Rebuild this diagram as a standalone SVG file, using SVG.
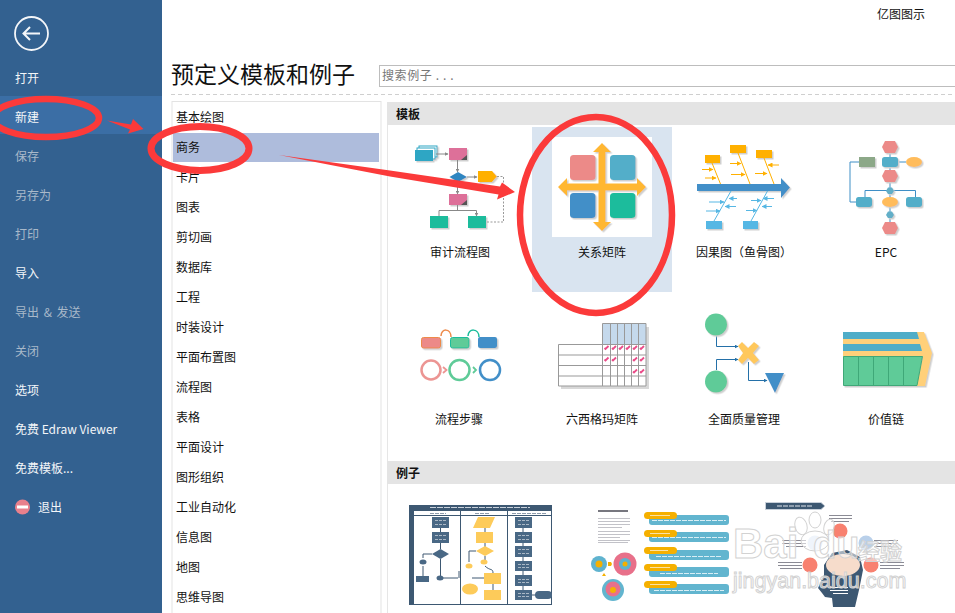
<svg xmlns="http://www.w3.org/2000/svg" width="955" height="613" viewBox="0 0 955 613">
<style>
text{font-family:"Noto Sans CJK SC","Noto Sans",sans-serif;font-size:12px;fill:#111}
.m{fill:#f4f6f9}.d{fill:#a9b9ca}
.c{text-anchor:middle}
.g{fill:none;stroke:#888;stroke-width:1}
.gd{fill:none;stroke:#999;stroke-width:1;stroke-dasharray:2 1.5}
.pk{fill:#dd6f99}.tl{fill:#1abc9c}
.gold{fill:#ffb000}.sky{fill:#56b7e4}
.la{fill:none;stroke:#ffb000;stroke-width:1}
.lb{fill:none;stroke:#56b7e4;stroke-width:1}
.ep{fill:none;stroke:#3f8fc6;stroke-width:1}
.red{fill:none;stroke:#fb3a3a}
.dk{fill:#4a6785}.yl{fill:#fdcb5a}
.l{fill:none;stroke:#3e5872;stroke-width:1}
.wm{fill:#fff;fill-opacity:.55;stroke:#d2d2d2;stroke-width:1}
.grid{fill:none;stroke:#999;stroke-width:1}
.q{fill:none;stroke:#2470a8;stroke-width:1}
</style>
<defs>
<filter id="sh" x="-20%" y="-20%" width="150%" height="150%"><feDropShadow dx="1.5" dy="1.5" stdDeviation="0.4" flood-color="#cfcfcf"/></filter>
<filter id="soft" x="-5%" y="-5%" width="110%" height="110%"><feGaussianBlur stdDeviation="0.35"/></filter>
<marker id="ag" markerWidth="4" markerHeight="4" refX="3.5" refY="2" orient="auto"><path d="M0 0L4 2L0 4z" fill="#888"/></marker>
<marker id="au" markerWidth="5" markerHeight="5" refX="4.5" refY="2.5" orient="auto"><path d="M0 0L5 2.5L0 5z" fill="#ffb000"/></marker>
<marker id="ab" markerWidth="5" markerHeight="5" refX="4.5" refY="2.5" orient="auto"><path d="M0 0L5 2.5L0 5z" fill="#56b7e4"/></marker>
<marker id="aq" markerWidth="4" markerHeight="4" refX="3.5" refY="2" orient="auto"><path d="M0 0L4 2L0 4z" fill="#2470a8"/></marker>
<path id="ck" d="M-2 .5L-1 1.5L2 -1.5" fill="none" stroke="#ea4c89" stroke-width="1.800"/>
</defs>
<rect width="955" height="613" fill="#fff"/>

<g id="sidebar">
<rect width="162" height="613" fill="#336190"/>
<rect y="96" width="162" height="38" fill="#3b6ea5"/>
<circle cx="31.500" cy="33.500" r="16.500" fill="none" stroke="#f4f6f9" stroke-width="1.800"/>
<path d="M40 33.500H24M30 27L23.500 33.500L30 40" fill="none" stroke="#f4f6f9" stroke-width="2"/>
<text class="m" x="15" y="83">打开</text>
<text class="m" x="15" y="122">新建</text>
<text class="d" x="15" y="161">保存</text>
<text class="d" x="15" y="200">另存为</text>
<text class="d" x="15" y="239">打印</text>
<text class="m" x="15" y="278">导入</text>
<text class="d" x="15" y="317" style="word-spacing:2px">导出 &amp; 发送</text>
<text class="d" x="15" y="356">关闭</text>
<text class="m" x="15" y="395">选项</text>
<text class="m" x="15" y="434">免费 Edraw Viewer</text>
<text class="m" x="15" y="473">免费模板...</text>
<circle cx="22.500" cy="507" r="7.500" fill="#e8808c"/>
<rect x="17" y="505.500" width="11" height="3" fill="#fff"/>
<text class="m" x="38" y="512">退出</text>
</g>

<g id="header">
<text x="877" y="19">亿图图示</text>
<text x="171" y="83" style="font-size:23px">预定义模板和例子</text>
<rect x="379.500" y="65.500" width="580" height="21" fill="#fff" stroke="#bdbdbd"/>
<text x="382" y="80" style="fill:#777;letter-spacing:.6px">搜索例子 . . .</text>
<path d="M171 94.500H955" stroke="#cfcfcf" stroke-dasharray="4 3" fill="none"/>
</g>

<g id="category-list">
<rect x="172" y="101.500" width="209" height="520" fill="#fff" stroke="#e3e3e3"/>
<rect x="173" y="133" width="206" height="29" fill="#aebcdc"/>
<text x="176" y="122">基本绘图</text>
<text x="176" y="152">商务</text>
<text x="176" y="182">卡片</text>
<text x="176" y="212">图表</text>
<text x="176" y="242">剪切画</text>
<text x="176" y="272">数据库</text>
<text x="176" y="302">工程</text>
<text x="176" y="332">时装设计</text>
<text x="176" y="362">平面布置图</text>
<text x="176" y="392">流程图</text>
<text x="176" y="422">表格</text>
<text x="176" y="452">平面设计</text>
<text x="176" y="482">图形组织</text>
<text x="176" y="512">工业自动化</text>
<text x="176" y="542">信息图</text>
<text x="176" y="572">地图</text>
<text x="176" y="602">思维导图</text>
</g>

<g id="section-headers">
<path d="M387.500 102V613" stroke="#e6e6e6" fill="none"/>
<rect x="387" y="102" width="568" height="23" fill="#e4e4e4"/>
<text x="396" y="119" style="font-weight:700">模板</text>
<rect x="387" y="461" width="568" height="23" fill="#e4e4e4"/>
<text x="396" y="478" style="font-weight:700">例子</text>
</g>

<g id="tpl-audit">
<g filter="url(#sh)">
<rect x="419" y="146" width="18" height="11" fill="#fff" stroke="#2ea6c4"/>
<rect x="417" y="148" width="18" height="11" fill="#fff" stroke="#2ea6c4"/>
<rect x="415" y="150" width="18" height="11" fill="#2ea6c4"/>
<path class="pk" d="M449 148h18v12h-18z"/><path d="M461 160l6-5v5z" fill="#555"/>
<path d="M449.500 177L458 172L467 177L458 182z" fill="#2e86c1"/>
<path class="gold" d="M478 171h14l5 5.500l-5 5.500h-14z"/>
<path class="pk" d="M449 194h18v11h-18z"/><path d="M461 205l6-5v5z" fill="#555"/>
<rect class="tl" x="430" y="216" width="18" height="12"/>
<rect class="tl" x="468" y="216" width="18" height="12"/>
</g>
<path class="g" marker-end="url(#ag)" d="M436 154H448"/>
<path class="g" marker-end="url(#ag)" d="M457.500 160V172"/>
<path class="g" marker-end="url(#ag)" d="M467 177H477"/>
<path class="g" marker-end="url(#ag)" d="M457.500 182V194"/>
<path class="g" d="M457.500 205V210.500"/>
<path class="g" marker-end="url(#ag)" d="M439 216V210.500H476.500V216"/>
<path class="gd" d="M497 176.500H503.500V222H486"/>
<text class="c" x="460" y="257">审计流程图</text>
</g>

<g id="tpl-matrix">
<rect x="532" y="127" width="140" height="165" fill="#d9e4f0"/>
<rect x="552" y="137" width="100" height="100" fill="#fff"/>
<g filter="url(#sh)">
<rect x="570" y="155" width="25.500" height="25" rx="3.500" fill="#ec8a88"/>
<rect x="610" y="155" width="25.500" height="25" rx="3.500" fill="#52aec9"/>
<rect x="570" y="193" width="25.500" height="25" rx="3.500" fill="#428fc8"/>
<rect x="610" y="193" width="25.500" height="25" rx="3.500" fill="#1abc9c"/>
<path fill="#ffb732" d="M602 143L611 152H605.500V183.500H637V178L646 187L637 196V190.500H605.500V222H611L602 231L593 222H598.500V190.500H567V196L558 187L567 178V183.500H598.500V152H593z"/>
</g>
<text class="c" x="602" y="257">关系矩阵</text>
</g>

<g id="tpl-fishbone">
<g filter="url(#sh)">
<path fill="#428fc8" d="M697 184H781V178L790 187.500L781 198V191H697z"/>
<rect class="gold" x="705" y="155" width="15" height="8"/>
<rect class="gold" x="730" y="145" width="16" height="8"/>
<rect class="gold" x="756" y="150" width="16" height="8"/>
<rect class="sky" x="706" y="221" width="16" height="8"/>
<rect class="sky" x="743" y="221" width="15" height="8"/>
</g>
<path class="la" d="M712 163L720.500 184M738 153L750 184M764 158L774 184"/>
<path class="lb" d="M714 221L731 191M751 221L767.500 191"/>
<path class="la" marker-end="url(#au)" d="M702 169.500H713"/>
<path class="la" marker-end="url(#au)" d="M705 178H716"/>
<path class="la" marker-end="url(#au)" d="M730 163.500H741"/>
<path class="la" marker-end="url(#au)" d="M731 174.500H745"/>
<path class="la" marker-end="url(#au)" d="M755 173.500H767"/>
<path class="la" marker-end="url(#au)" d="M779 165H768"/>
<path class="lb" marker-end="url(#ab)" d="M709 202H724"/>
<path class="lb" marker-end="url(#ab)" d="M737 198.500H729"/>
<path class="lb" marker-end="url(#ab)" d="M736 206.500H725"/>
<path class="lb" marker-end="url(#ab)" d="M706 211H720"/>
<path class="lb" marker-end="url(#ab)" d="M751 200.500H761"/>
<path class="lb" marker-end="url(#ab)" d="M774 198.500H763"/>
<path class="lb" marker-end="url(#ab)" d="M772 206.500H762"/>
<path class="lb" marker-end="url(#ab)" d="M746 210.500H757"/>
<text x="696" y="257">因果图（鱼骨图）</text>
</g>

<g id="tpl-epc">
<path class="ep" d="M890 147V228M859 162H850V202H856M865 197V190.500H915.500V197M898 162H906"/>
<g filter="url(#sh)">
<path fill="#ec8a88" d="M885 141H895L898 147L895 153H885L882 147z"/>
<path fill="#ec8a88" d="M885 170H895L898 176L895 182H885L882 176z"/>
<path fill="#ec8a88" d="M885 222H895L898 228L895 234H885L882 228z"/>
<rect x="859" y="157" width="16" height="10" fill="#8ca888"/>
<rect x="882" y="157" width="16" height="10" rx="2.500" fill="#52aec9"/>
<ellipse cx="914" cy="162" rx="8" ry="5" fill="#ffbc5c"/>
<rect x="856" y="197" width="16" height="10" rx="2.500" fill="#52aec9"/>
<rect x="906" y="197" width="16" height="10" rx="2.500" fill="#52aec9"/>
<ellipse cx="890" cy="202" rx="8" ry="5" fill="#ffbc5c"/>
<path fill="#62afc8" d="M888 187.500H892L894 191L892 194H888L886 191z"/>
<path fill="#62afc8" d="M888 211.500H892L894 215L892 218H888L886 215z"/>
</g>
<text class="c" x="886" y="257">EPC</text>
</g>

<g id="tpl-steps">
<g filter="url(#sh)">
<rect x="421.500" y="337.500" width="19" height="10.500" rx="2" fill="#ec8a88" stroke="#ee8a4a"/>
<rect x="450.500" y="337.500" width="18.500" height="10.500" rx="2" fill="#5fcb98" stroke="#1abc9c"/>
<rect x="478" y="337" width="19" height="11" rx="2" fill="#428fc8"/>
</g>
<path d="M441 336C441 328 451 328 451 337" fill="none" stroke="#ee8a4a" stroke-width="1.500"/>
<path d="M468 336C468 328 479 328 479 337" fill="none" stroke="#1abc9c" stroke-width="1.500"/>
<circle cx="431" cy="370" r="9.500" fill="none" stroke="#ec9593" stroke-width="2.500"/>
<circle cx="459.500" cy="370" r="10" fill="none" stroke="#5fcb98" stroke-width="2.500"/>
<circle cx="490" cy="370" r="10" fill="none" stroke="#428fc8" stroke-width="2.500"/>
<path d="M443 367L446.500 370L443 373" fill="none" stroke="#ec9593" stroke-width="1.800"/>
<path d="M473 367L476 370L473 373" fill="none" stroke="#5fcb98" stroke-width="1.800"/>
<text class="c" x="459" y="424">流程步骤</text>
</g>

<g id="tpl-sigma">
<rect x="561" y="347" width="88" height="42" fill="#d8d8d8"/>
<rect x="605" y="327" width="44" height="20" fill="#d8d8d8"/>
<rect x="558.500" y="344.500" width="87.500" height="41.500" fill="#fff"/>
<rect x="602.500" y="323.500" width="43.500" height="21" fill="#c5d9ec"/>
<path class="grid" d="M602.500 323.500H646V386H558.500V344.500H646M558.500 355H646M558.500 365.500H646M558.500 376H646M602.500 323.500V386M610.500 323.500V386M617.500 323.500V386M624.500 323.500V386M631.500 323.500V386M638.500 323.500V386"/>
<use href="#ck" x="606.500" y="347.500"/><use href="#ck" x="614" y="347.500"/><use href="#ck" x="621" y="347.500"/><use href="#ck" x="628" y="347.500"/><use href="#ck" x="635" y="347.500"/><use href="#ck" x="642" y="347.500"/>
<use href="#ck" x="606.500" y="359"/><use href="#ck" x="614" y="359"/><use href="#ck" x="635" y="359"/><use href="#ck" x="642" y="359"/>
<use href="#ck" x="635" y="371"/><use href="#ck" x="642" y="371"/>
<text class="c" x="602" y="424">六西格玛矩阵</text>
</g>

<g id="tpl-quality">
<path class="q" marker-end="url(#aq)" d="M716.500 335V346.500H738"/>
<path class="q" marker-end="url(#aq)" d="M716.500 370V359.500H738"/>
<path class="q" marker-end="url(#aq)" d="M748.500 362V380.500H767"/>
<g filter="url(#sh)">
<circle cx="716" cy="324.500" r="11" fill="#5fcb98"/>
<circle cx="716" cy="381.500" r="11" fill="#5fcb98"/>
<path fill="#ffc85c" d="M738 346L742 342L748 348L754 342L759 346L753 353L759 360L754 364L748 358L742 364L738 360L743 353z"/>
<path fill="#428fc8" d="M765 373H784L775 393z"/>
</g>
<text class="c" x="744" y="424">全面质量管理</text>
</g>

<g id="tpl-value">
<g filter="url(#sh)">
<path fill="#ffd07a" d="M843 332H924L932 353L925 386H916L923 357H843z"/>
<path fill="#4fadc8" d="M843 332H917L919 339H843zM843 344H920L922 351H843z"/>
<path fill="#5fcb98" stroke="#3fa878" d="M843.500 356.500H922.500L917 385.500H843.500z"/>
</g>
<path fill="none" stroke="#3fa878" d="M858.500 357V385M873.500 357V385M888.500 357V385M903.500 357V385"/>
<text class="c" x="886" y="424">价值链</text>
</g>

<g id="ex-flowchart" filter="url(#soft)">
<rect x="409.500" y="505.500" width="142" height="99" fill="#fff" stroke="#3e5872"/>
<rect x="409" y="505" width="143" height="6" fill="#3e5872"/>
<rect x="409" y="505" width="5" height="99" fill="#3e5872"/>
<path d="M430 507.500H530" stroke="#c9d2dc" fill="none" stroke-dasharray="6 1"/>
<path d="M430 513.500H446M475 513.500H490M512 513.500H546" stroke="#8d9bab" fill="none" stroke-dasharray="4 1"/>
<path class="l" d="M414 515.500H552M460.500 511V604M507.500 511V604"/>
<path class="l" d="M440.500 528V532M440.500 543V549M440.500 559V578M432 554H423V558M423 566V576M440 578H458M472 578H484M485 528V532M485 543V547M476 551H469V562M485 556V562M485 566C490 571 493 568 493 573M493 584V590M523 528V590M532 595H536M459 578V571"/>
<rect class="dk" x="432" y="517" width="17" height="11"/><rect class="dk" x="432" y="532" width="17" height="11"/>
<path class="dk" d="M440.500 549L449 554L440.500 559L432 554z"/>
<ellipse class="dk" cx="423" cy="562" rx="3.500" ry="2.500"/><ellipse class="dk" cx="440" cy="578" rx="3.500" ry="2.500"/>
<rect class="dk" x="416" y="576" width="13" height="6"/>
<rect class="dk" x="515" y="517" width="17" height="11"/><rect class="dk" x="515" y="532" width="17" height="11"/><rect class="dk" x="515" y="546" width="17" height="11"/><rect class="dk" x="515" y="561" width="17" height="10"/><rect class="dk" x="515" y="575" width="17" height="11"/><rect class="dk" x="515" y="590" width="17" height="10"/>
<rect class="dk" x="535" y="591" width="17" height="8" rx="4"/>
<path d="M435 520.500H446M435 524.500H446M435 535.500H446M435 539.500H446M518 520.500H529M518 524.500H529M518 535.500H529M518 539.500H529M518 549.500H529M518 553.500H529M518 564.500H529M518 567.500H529M518 579.500H529M518 582.500H529M518 593.500H529M518 596.500H529" stroke="#aab8c6" fill="none" stroke-dasharray="3 1"/>
<path class="yl" d="M478 517H495L490 528H473z"/>
<rect class="yl" x="476" y="532" width="17" height="11"/>
<path class="yl" d="M485 546L494 551L485 556L476 551z"/>
<ellipse class="yl" cx="469" cy="566" rx="3.500" ry="2.500"/><ellipse class="yl" cx="484" cy="562" rx="3.500" ry="2.500"/>
<rect class="yl" x="484" y="573" width="17" height="11"/>
<ellipse class="yl" cx="470" cy="589" rx="8" ry="5.500"/>
<rect class="yl" x="484" y="590" width="17" height="10"/>
</g>

<g id="ex-infographic" filter="url(#soft)">
<g fill="#c2c2c8">
<rect x="598" y="510" width="30" height="2" fill="#77777f"/><rect x="598" y="518" width="32" height="1"/><rect x="598" y="521" width="32" height="1"/><rect x="598" y="524" width="32" height="1"/><rect x="598" y="527" width="24" height="1"/><rect x="598" y="531" width="32" height="1"/><rect x="598" y="534" width="32" height="1"/><rect x="598" y="537" width="22" height="1"/><rect x="598" y="540" width="32" height="1"/><rect x="598" y="542" width="30" height="1"/>
</g>
<g fill="#62b5cf">
<rect x="649" y="515" width="80" height="10" rx="3"/><rect x="649" y="532" width="80" height="10" rx="3"/><rect x="649" y="550" width="80" height="10" rx="3"/><rect x="649" y="567" width="80" height="10" rx="3"/><rect x="649" y="584" width="80" height="10" rx="3"/>
</g>
<path d="M652 520.500H726M652 537.500H726M656 556.500H722M660 573.500H718M654 590.500H724" stroke="#d8eef5" fill="none" stroke-dasharray="5 1"/>
<g fill="#f5b000">
<rect x="644" y="512" width="33" height="7" rx="3.500"/><rect x="644" y="530" width="33" height="7" rx="3.500"/><rect x="644" y="547" width="33" height="7" rx="3.500"/><rect x="644" y="564" width="33" height="7" rx="3.500"/><rect x="644" y="581" width="33" height="7" rx="3.500"/>
</g>
<path d="M650 515.500H670M650 533.500H670M650 550.500H668M650 567.500H670M650 584.500H670" stroke="#fbe2a4" fill="none"/>
<circle cx="599" cy="564" r="8" fill="#5fb3cf"/><circle cx="599" cy="564" r="3.500" fill="#f5b000"/>
<circle cx="625" cy="564" r="11.500" fill="#e8708a"/><circle cx="625" cy="564" r="6" fill="#5fb3cf"/><circle cx="625" cy="564" r="2.500" fill="#f5b000"/>
<path d="M608 562h3l1 2l-1 2h-3z" fill="#f5b000"/><path d="M602 576l2-3l2 3z" fill="#f5b000"/>
<circle cx="613" cy="590" r="11" fill="#62b5cf"/><circle cx="613" cy="589" r="7.500" fill="#e8708a"/><circle cx="613" cy="590" r="3" fill="#f5b000"/>
</g>

<g id="ex-head" filter="url(#soft)">
<path fill="#3e5872" stroke="#c8d0da" d="M765.500 502.500H821L825 506L821 509.500H765.500z"/>
<path d="M777 506H812" stroke="#dfe5ec" fill="none" stroke-dasharray="5 1"/>
<g fill="#8b8b95">
<rect x="829" y="515" width="23" height="1"/><rect x="829" y="518" width="23" height="1"/><rect x="831" y="521" width="18" height="1"/>
<rect x="782" y="540" width="24" height="1"/><rect x="782" y="543" width="24" height="1"/><rect x="786" y="546" width="20" height="1"/>
<rect x="874" y="540" width="24" height="1"/><rect x="874" y="543" width="24" height="1"/><rect x="874" y="546" width="18" height="1"/>
<rect x="778" y="562" width="24" height="1"/><rect x="778" y="565" width="24" height="1"/><rect x="780" y="568" width="22" height="1"/>
<rect x="880" y="562" width="24" height="1"/><rect x="880" y="565" width="24" height="1"/><rect x="880" y="568" width="20" height="1"/>
</g>
<circle cx="840" cy="531" r="7.500" fill="#f8816f"/>
<circle cx="871" cy="565" r="7.500" fill="#f8816f"/>
<circle cx="810" cy="565" r="7.500" fill="#f8816f"/>
<circle cx="866" cy="543" r="7.500" fill="#b9d0ea"/>
<circle cx="815" cy="543" r="7.500" fill="#dbe7f5"/>
<path fill="#3e5872" d="M855 607L859 590L863 570L860 557L847 550L832 553L824 565L824 575L818 588L822 593L825 597L832 598L833 607z"/>
<ellipse cx="843" cy="565" rx="17" ry="11" fill="#f6dccb"/>
<path d="M830 587.500H848M830 590.500H848M833 593.500H848" stroke="#fff" fill="none"/>
</g>

<g id="watermark">
<text class="wm" x="733" y="558" style="font-size:42px;font-family:'Liberation Sans',sans-serif;font-weight:700">Bai</text>
<g class="wm">
<ellipse cx="801" cy="526" rx="6" ry="9" transform="rotate(-15 801 526)"/>
<ellipse cx="815" cy="520" rx="6" ry="8"/>
<ellipse cx="829" cy="527" rx="5" ry="8" transform="rotate(15 829 527)"/>
<ellipse cx="815" cy="541" rx="14" ry="10"/>
</g>
<text class="wm" x="813" y="558" style="font-size:38px;font-family:'Liberation Sans',sans-serif;font-weight:700">du</text>
<text class="wm" x="858" y="559" style="font-size:22px;font-weight:700">经验</text>
<text class="wm" x="733" y="588" style="font-size:21.500px;font-family:'Liberation Sans',sans-serif">jingyan.baidu.com</text>
</g>

<g id="connectors">
<ellipse class="red" cx="46" cy="118" rx="53" ry="19" stroke-width="6.500"/>
<ellipse class="red" cx="200" cy="148.500" rx="49" ry="22" stroke-width="7"/>
<ellipse class="red" cx="596" cy="215" rx="76" ry="98" stroke-width="6.500"/>
<path fill="#fb3a3a" d="M107 120.500L131 124.500L133 119L143.500 129L128 133.500L130 129.500z"/>
<path fill="#fb3a3a" d="M279 155L390 170.500L500 186.500L502 182.500L515 192L497 199.500L498.500 194.500L390 176.500z"/>
</g>
</svg>
